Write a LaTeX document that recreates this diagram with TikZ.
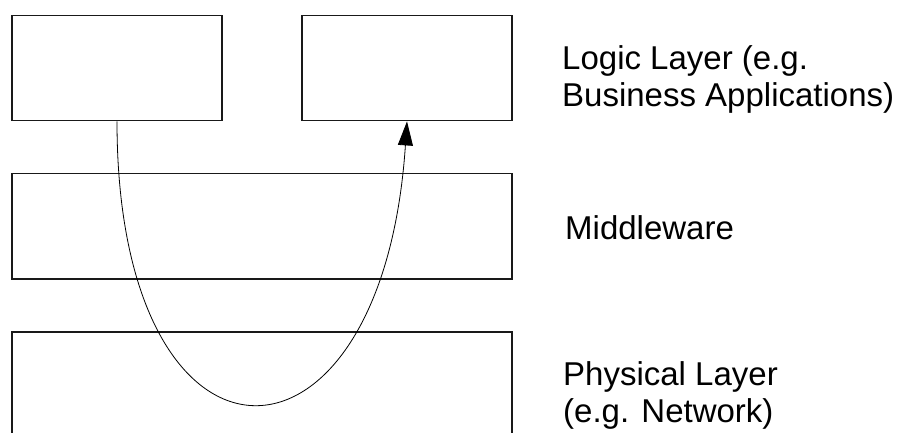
\documentclass[tikz,border=0pt]{standalone}
\usepackage{fontspec}
\setmainfont{Liberation Sans}
\usetikzlibrary{arrows.meta,calc}
\begin{document}
\begin{tikzpicture}[x=1pt, y=-1pt,
    layerbox/.style={draw=black!90, line width=1.3pt, minimum height=105.5pt, inner sep=0pt},
    layertext/.style={anchor=base west, align=left, inner sep=0pt, font=\fontsize{33}{37.5}\selectfont},
    flow/.style={line width=0.8pt, -{Triangle[length=24pt, width=15pt]}}]
    \useasboundingbox (0,0) rectangle (899,432);
    \clip (0,0) rectangle (899,432);
    % boxes of the three layers
    \node[layerbox, minimum width=210pt] (logicA) at (117,68) {};
    \node[layerbox, minimum width=210pt] (logicB) at (407,68) {};
    \node[layerbox, minimum width=500pt] (middle) at (262,226.2) {};
    \node[layerbox, minimum width=500pt] (physical) at (262,384.7) {};
    % labels on the right (base is the last line)
    \node[layertext] (logictext) at (562,106.8) {Logic Layer (e.g.\\Business Applications)};
    \node[layertext] (middletext) at (565,239) {Middleware};
    \node[layertext] (physicaltext) at (563,422.5) {Physical Layer\\(e.g. Network)};
    % call going down through the layers and back up
    \draw[flow] (logicA.south) .. controls ($(logicA.south)+(0,375)$) and ($(logicB.south)+(-25,375)$) .. (logicB.south);
\end{tikzpicture}
\end{document}
